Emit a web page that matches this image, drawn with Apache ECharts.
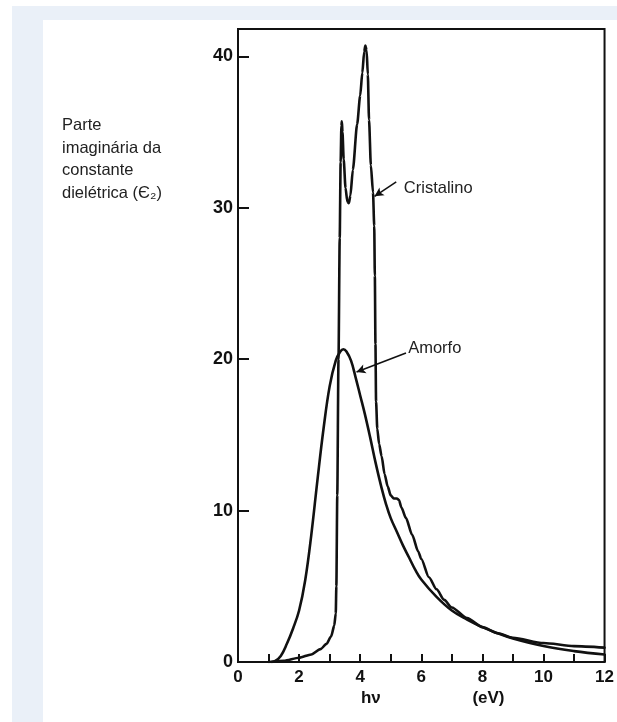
<!DOCTYPE html>
<html>
<head>
<meta charset="utf-8">
<script src="https://cdn.jsdelivr.net/npm/echarts@6/dist/echarts.min.js"></script>
<style>
html,body{margin:0;padding:0;background:#ffffff;}
#bg{position:absolute;left:12px;top:6px;width:605px;height:716px;background:#eaf0f8;}
#inner{position:absolute;left:43px;top:20px;width:574px;height:702px;background:#ffffff;}
#chart{position:absolute;left:0;top:0;width:617px;height:722px;}
#ytitle{position:absolute;left:62px;top:113px;font-family:Arial,"Liberation Sans",sans-serif;font-size:16.5px;line-height:22.6px;color:#222;}
</style>
</head>
<body>
<div id="bg"></div>
<div id="inner"></div>
<div id="chart"></div>
<script>
// ---- data ----
var xTickLabels = ['0','','2','','4','','6','','8','','10','','12'];
var yTickLabels = ['0','10','20','30','40'];

var crystalE   = [1.1,1.5,2.0,2.4,2.7,2.9,3.05,3.15,3.2,3.22,3.25,3.29,3.33,3.36,3.385,3.40,3.42,3.46,3.52,3.58,3.63,3.68,3.76,3.9,4.0,4.07,4.13,4.17,4.21,4.25,4.29,4.35,4.42,4.46,4.48,4.50,4.52,4.56,4.62,4.7,4.8,4.9,5.0,5.1,5.2,5.27,5.35,5.5,5.7,5.9,6.0,6.25,6.5,6.75,7.0,7.5,8.0,8.5,9,10,11,12];
var crystalEps = [0,0.08,0.28,0.5,0.85,1.2,1.7,2.4,3.2,5,11,20,28,33,35.4,35.7,35.0,33.2,31.3,30.4,30.3,30.8,32.5,35.5,37.4,38.9,40.3,40.7,40.4,38.8,35.8,32.8,31.0,28.8,25.5,21,17.2,15.4,14.4,13.6,12.4,11.6,11.0,10.8,10.8,10.7,10.2,9.5,8.4,7.3,6.8,5.6,4.8,4.1,3.6,2.9,2.3,1.9,1.6,1.25,1.05,0.95];

var amorphE   = [1.0,1.2,1.4,1.6,1.8,2.0,2.2,2.4,2.6,2.8,3.0,3.2,3.35,3.45,3.55,3.7,3.85,4.0,4.15,4.33,4.5,4.7,4.85,5.0,5.2,5.4,5.6,5.8,6.0,6.5,7.0,7.5,8.0,8.5,9,10,11,12];
var amorphEps = [0,0.05,0.4,1.2,2.2,3.4,5.4,8.4,12.0,15.4,18.2,19.9,20.5,20.65,20.5,19.9,18.8,17.6,16.4,14.8,13.2,11.5,10.4,9.5,8.6,7.7,6.9,6.1,5.45,4.3,3.4,2.8,2.3,1.9,1.55,1.05,0.72,0.5];

var seriesNames = ['Cristalino','Amorfo'];
var yTitleLines = ['Parte','imaginária da','constante','dielétrica (Є₂)'];
var xTitleLeft = 'hν';
var xTitleRight = '(eV)';

// annotation anchors (data space)
var crystalArrow = [[5.18,31.7],[4.47,30.75]];
var amorphArrow  = [[5.50,20.4],[3.88,19.15]];
var crystalTextAt = [5.43,31.3];
var amorphTextAt  = [5.57,20.7];

function pairs(xs, ys){ return xs.map(function(x,i){ return [x, ys[i]]; }); }

(function(){
  var d = document.createElement('div'); d.id='ytitle';
  d.innerHTML = yTitleLines.join('<br>');
  document.body.appendChild(d);
})();

var chart = echarts.init(document.getElementById('chart'), null, {renderer:'canvas'});
var labelFont = '"Liberation Sans", Arial, sans-serif';
var option = {
  animation:false,
  backgroundColor:'transparent',
  grid:{left:238, right:8, top:29, bottom:60, show:true, borderColor:'#111', borderWidth:2, backgroundColor:'transparent'},
  xAxis:{
    type:'value', min:0, max:12, interval:1,
    axisLine:{show:true, onZero:false, lineStyle:{color:'#111', width:2}},
    axisTick:{show:true, inside:true, length:8, lineStyle:{color:'#111', width:2}},
    axisLabel:{color:'#111', fontSize:17, fontWeight:'bold', fontFamily:labelFont, margin:7,
      formatter:function(v){ var i=Math.round(v); return xTickLabels[i] !== undefined ? xTickLabels[i] : ''; }},
    splitLine:{show:false}
  },
  yAxis:{
    type:'value', min:0, max:41.8, interval:10,
    axisLine:{show:true, onZero:false, lineStyle:{color:'#111', width:2}},
    axisTick:{show:true, inside:true, length:11, lineStyle:{color:'#111', width:2}},
    axisLabel:{color:'#111', fontSize:18, fontWeight:'bold', fontFamily:labelFont, margin:5, showMaxLabel:false,
      formatter:function(v){ var i=Math.round(v/10); return (Math.abs(v - i*10) < 1e-6 && yTickLabels[i]!==undefined) ? yTickLabels[i] : ''; }},
    splitLine:{show:false}
  },
  series:[
    {name:seriesNames[0], type:'line', data:pairs(crystalE, crystalEps), showSymbol:false, smooth:0.25, smoothMonotone:'x',
      lineStyle:{color:'#111', width:2.6, join:'round', cap:'round'}, z:3,
      markLine:{silent:true, symbol:['none','arrow'], symbolSize:[7,9], label:{show:false},
        lineStyle:{color:'#111', width:1.6, type:'solid'},
        data:[[{coord:crystalArrow[0]},{coord:crystalArrow[1]}]]}
    },
    {name:seriesNames[1], type:'line', data:pairs(amorphE, amorphEps), showSymbol:false, smooth:0.4,
      lineStyle:{color:'#111', width:2.6, join:'round', cap:'round'}, z:3,
      markLine:{silent:true, symbol:['none','arrow'], symbolSize:[7,9], label:{show:false},
        lineStyle:{color:'#111', width:1.6, type:'solid'},
        data:[[{coord:amorphArrow[0]},{coord:amorphArrow[1]}]]}
    }
  ]
};
chart.setOption(option);

var pC = chart.convertToPixel({gridIndex:0}, crystalTextAt);
var pA = chart.convertToPixel({gridIndex:0}, amorphTextAt);
var pHv = chart.convertToPixel({gridIndex:0}, [4.35, 0]);
var pEv = chart.convertToPixel({gridIndex:0}, [8.2, 0]);
var txtFont = '16.5px Arial, "Liberation Sans", sans-serif';
chart.setOption({
  graphic:[
    {type:'text', x:pC[0], y:pC[1], style:{text:seriesNames[0], font:txtFont, fill:'#222', textVerticalAlign:'middle', textAlign:'left'}},
    {type:'text', x:pA[0], y:pA[1], style:{text:seriesNames[1], font:txtFont, fill:'#222', textVerticalAlign:'middle', textAlign:'left'}},
    {type:'text', x:pHv[0], y:pHv[1]+36, style:{text:xTitleLeft, font:'bold 17px "Liberation Sans", Arial, sans-serif', fill:'#111', textVerticalAlign:'middle', textAlign:'center'}},
    {type:'text', x:pEv[0], y:pEv[1]+36, style:{text:xTitleRight, font:'bold 17px "Liberation Sans", Arial, sans-serif', fill:'#111', textVerticalAlign:'middle', textAlign:'center'}}
  ]
});
</script>
</body>
</html>
